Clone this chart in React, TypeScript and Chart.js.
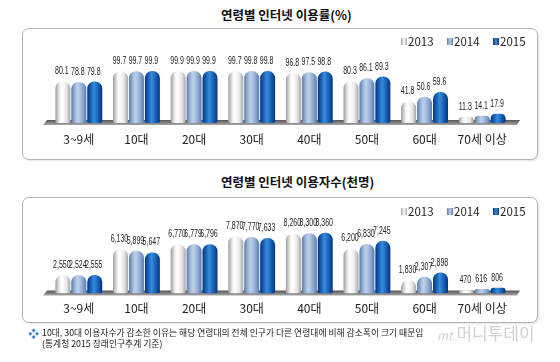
import React, { useEffect, useRef } from "react";
import { Chart, registerables } from "chart.js";
Chart.register(...registerables);

// ---------- data ----------
const categories = ["3~9세", "10대", "20대", "30대", "40대", "50대", "60대", "70세 이상"];
const seriesNames = ["2013", "2014", "2015"];
const rate2013 = [80.1, 99.7, 99.9, 99.7, 96.8, 80.3, 41.8, 11.3];
const rate2014 = [78.8, 99.7, 99.9, 99.8, 97.5, 86.1, 50.6, 14.1];
const rate2015 = [79.8, 99.9, 99.9, 99.8, 98.8, 89.3, 59.6, 17.9];
const users2013 = [2550, 6130, 6770, 7870, 8260, 6200, 1830, 470];
const users2014 = [2524, 5899, 6779, 7770, 8300, 6830, 2307, 616];
const users2015 = [2555, 5647, 6796, 7633, 8360, 7245, 2898, 806];

const title1 = "연령별 인터넷 이용률(%)";
const title2 = "연령별 인터넷 이용자수(천명)";
const note1 = "10대, 30대 이용자수가 감소한 이유는 해당 연령대의 전체 인구가 다른 연령대에 비해 감소폭이 크기 때문임";
const note2 = "(통계청 2015 장래인구추계 기준)";

// ---------- styles ----------
const gradStops: [number, string][][] = [
  [[0, "#9c9c9c"], [0.3, "#f2f2f2"], [0.45, "#ffffff"], [0.75, "#e6e6e6"], [1, "#a4a4a4"]],
  [[0, "#5b7cab"], [0.3, "#a9c0e0"], [0.45, "#bdd0ea"], [0.75, "#8eaad4"], [1, "#5a7bab"]],
  [[0, "#06347a"], [0.3, "#1f6fc8"], [0.45, "#3a8ad8"], [0.75, "#145cb4"], [1, "#05347c"]],
];
const solidColors = ["#e8e8e8", "#9fb6d9", "#1460b8"];

const CAT_PCT = 0.83;
const BAR_PCT = 0.94;

function BarChart(props: {
  series: number[][];
  max: number;
  fmt: (v: number) => string;
  top: number;
  height: number;
  padBottom: number;
  tickPad: number;
}) {
  const ref = useRef<HTMLCanvasElement>(null);
  useEffect(() => {
    const { series, max, fmt, padBottom, tickPad } = props;
    const n = series.length;
    const grad = (di: number) => (ctx: any) => {
      if (ctx.type !== "data") return solidColors[di];
      const chart = ctx.chart;
      const area = chart.chartArea;
      const xs = chart.scales.x;
      if (!area || !xs) return solidColors[di];
      const cat = (area.right - area.left) / categories.length;
      const slot = (cat * CAT_PCT) / n;
      const w = slot * BAR_PCT;
      const cx = xs.getPixelForValue(ctx.dataIndex) + (ctx.datasetIndex - (n - 1) / 2) * slot;
      const g = chart.ctx.createLinearGradient(cx - w / 2, 0, cx + w / 2, 0);
      gradStops[di].forEach(([o, c]) => g.addColorStop(o, c));
      return g;
    };

    const floorPlugin = {
      id: "floor",
      beforeDatasetsDraw(chart: any) {
        const { ctx, chartArea: a } = chart;
        const y = a.bottom;
        ctx.save();
        ctx.beginPath();
        ctx.moveTo(a.left - 3, y - 3);
        ctx.lineTo(a.right + 9, y - 3);
        ctx.lineTo(a.right + 6, y + 2);
        ctx.lineTo(a.left - 7, y + 2);
        ctx.closePath();
        const g = ctx.createLinearGradient(0, y - 3, 0, y + 2);
        g.addColorStop(0, "#555555");
        g.addColorStop(1, "#a8a8a8");
        ctx.fillStyle = g;
        ctx.fill();
        ctx.restore();
      },
    };

    const valuePlugin = {
      id: "values",
      afterDatasetsDraw(chart: any) {
        const ctx = chart.ctx;
        ctx.save();
        ctx.font = '10px "Liberation Sans", "DejaVu Sans", sans-serif';
        ctx.fillStyle = "#222222";
        ctx.textAlign = "center";
        ctx.textBaseline = "alphabetic";
        chart.data.datasets.forEach((ds: any, di: number) => {
          const meta = chart.getDatasetMeta(di);
          meta.data.forEach((el: any, i: number) => {
            ctx.save();
            ctx.translate(el.x - 1, el.y - 7);
            ctx.scale(0.7, 1);
            ctx.fillText(fmt(ds.data[i]), 0, 0);
            ctx.restore();
          });
        });
        ctx.restore();
      },
    };

    const chart = new Chart(ref.current as HTMLCanvasElement, {
      type: "bar",
      data: {
        labels: categories,
        datasets: series.map((d, di) => ({
          label: seriesNames[di],
          data: d,
          backgroundColor: grad(di),
          borderWidth: 0,
          borderRadius: { topLeft: 7, topRight: 7, bottomLeft: 2, bottomRight: 2 },
          borderSkipped: false,
          categoryPercentage: CAT_PCT,
          barPercentage: BAR_PCT,
        })),
      },
      options: {
        responsive: false,
        animation: false,
        devicePixelRatio: 1,
        layout: { padding: { left: 28, right: 27, top: 30, bottom: padBottom } },
        plugins: { legend: { display: false }, tooltip: { enabled: false } },
        scales: {
          x: {
            grid: { display: false, drawTicks: false },
            border: { display: false },
            ticks: {
              padding: tickPad,
              color: "#222222",
              font: { family: '"Noto Sans CJK KR", sans-serif', size: 12 },
              maxRotation: 0,
              autoSkip: false,
            },
          },
          y: { display: false, min: 0, max },
        },
      },
      plugins: [floorPlugin, valuePlugin],
    });
    return () => chart.destroy();
  }, []);
  return (
    <canvas
      ref={ref}
      width={516}
      height={props.height}
      style={{ position: "absolute", left: 22, top: props.top, width: 516, height: props.height }}
    />
  );
}

function Box({ top, height }: { top: number; height: number }) {
  return (
    <div
      style={{
        position: "absolute",
        left: 22,
        top,
        width: 514,
        height: height - 2,
        border: "1px solid #b4b4b4",
        borderRadius: 7,
        boxShadow: "1px 1px 2px rgba(0,0,0,0.12)",
        background: "#ffffff",
      }}
    />
  );
}

const iconBg = [
  "linear-gradient(90deg,#a0a0a0,#ffffff 50%,#a8a8a8)",
  "linear-gradient(90deg,#5b7cab,#bdd0ea 50%,#5a7bab)",
  "linear-gradient(90deg,#06347a,#3a8ad8 50%,#05347c)",
];
const legendX = [401, 447, 493];

function Legend({ y }: { y: number }) {
  return (
    <>
      {seriesNames.map((s, i) => (
        <React.Fragment key={s}>
          <div
            style={{
              position: "absolute",
              left: legendX[i],
              top: y - 3,
              width: 6,
              height: 7,
              background: iconBg[i],
            }}
          />
          <div
            style={{
              position: "absolute",
              left: legendX[i] + 7,
              top: y - 8,
              height: 16,
              lineHeight: "16px",
              fontSize: 11.5,
              color: "#222",
              fontFamily: '"Noto Sans CJK KR", sans-serif',
              whiteSpace: "nowrap",
            }}
          >
            {s}
          </div>
        </React.Fragment>
      ))}
    </>
  );
}

const titleStyle = (top: number): React.CSSProperties => ({
  position: "absolute",
  left: 221,
  top,
  lineHeight: "16px",
  fontSize: 12.5,
  fontWeight: 700,
  color: "#111",
  whiteSpace: "nowrap",
  fontFamily: '"Noto Sans CJK KR", sans-serif',
});

export default function App() {
  return (
    <div
      style={{
        position: "absolute",
        left: 0,
        top: 0,
        width: 560,
        height: 362,
        background: "#ffffff",
        overflow: "hidden",
        fontFamily: '"Noto Sans CJK KR", sans-serif',
      }}
    >
      <div style={titleStyle(7)}>{title1}</div>
      <Box top={28} height={132} />
      <BarChart
        series={[rate2013, rate2014, rate2015]}
        max={125}
        fmt={(v) => v.toFixed(1)}
        top={28}
        height={132}
        padBottom={4.6}
        tickPad={9}
      />
      <Legend y={41} />

      <div style={titleStyle(174)}>{title2}</div>
      <Box top={197} height={126} />
      <BarChart
        series={[users2013, users2014, users2015]}
        max={9150}
        fmt={(v) => v.toLocaleString("en-US")}
        top={197}
        height={128}
        padBottom={1}
        tickPad={8}
      />
      <Legend y={211} />

      <div
        style={{
          position: "absolute",
          left: 28,
          top: 326,
          lineHeight: "14px",
          fontSize: 11,
          color: "#3b86d6",
        }}
      >
        ❖
      </div>
      <div
        style={{
          position: "absolute",
          left: 42,
          top: 326,
          lineHeight: "14px",
          fontSize: 8.8,
          color: "#222",
          whiteSpace: "nowrap",
        }}
      >
        {note1}
      </div>
      <div
        style={{
          position: "absolute",
          left: 42,
          top: 337,
          lineHeight: "14px",
          fontSize: 8.8,
          color: "#222",
          whiteSpace: "nowrap",
        }}
      >
        {note2}
      </div>
      <div
        style={{
          position: "absolute",
          left: 437,
          top: 322,
          lineHeight: "22px",
          fontSize: 17,
          color: "rgba(150,150,150,0.45)",
          whiteSpace: "nowrap",
        }}
      >
        <span style={{ fontStyle: "italic", fontSize: 12 }}>mt</span> 머니투데이
      </div>
    </div>
  );
}
